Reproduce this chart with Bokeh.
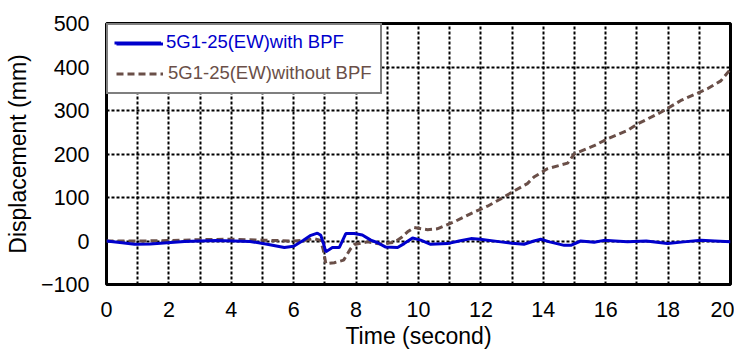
from bokeh.plotting import figure
from bokeh.models import Legend, LegendItem, FixedTicker, Range1d
from bokeh.embed import file_html
from bokeh.resources import INLINE

# ---- data ----
t_bpf = [0.0, 0.5, 0.9, 1.4, 1.95, 2.5, 3.0, 3.5, 4.1, 4.6, 5.15, 5.7, 6.0, 6.3,
         6.55, 6.76, 6.87, 6.95, 7.03, 7.24, 7.46, 7.67, 7.94, 8.2, 8.47, 8.69,
         8.95, 9.33, 9.54, 9.81, 10.07, 10.39, 10.93, 11.3, 11.68, 11.97, 12.64,
         13.0, 13.38, 13.7, 13.92, 14.2, 14.67, 14.88, 15.2, 15.63, 15.95, 16.3,
         16.7, 17.3, 17.98, 18.5, 19.05, 19.5, 20.0]
d_bpf = [0, -4, -7.5, -7, -4, -1, 0, 1, 0, -1, -7.5, -15, -12, 1,
         13, 18, 13, -5, -25, -15, -15, 17, 17, 14, 2, -4,
         -14, -15, -6, 7, 2, -7.5, -6, 0, 5.5, 4, -2,
         -5, -7.5, 0, 4, -2, -10, -10, 0, -3, 1.5, 0,
         -2, 0, -6, -2, 1.5, 0, -2]

t_raw = [0.0, 1.0, 2.0, 3.0, 4.0, 5.0, 6.0, 6.4, 6.65, 6.86, 6.95, 7.03, 7.3,
         7.6, 7.83, 7.94, 8.15, 8.37, 8.79, 9.22, 9.45, 9.65, 9.86, 10.29, 10.6,
         11.14, 11.68, 12.21, 12.74, 13.06, 13.49, 13.7, 14.13, 14.78, 14.99,
         15.63, 16.06, 16.7, 17.02, 17.77, 18.41, 19.26, 19.69, 20.0]
d_raw = [0, 0, 1, 3, 4, 2, 0, 2, 5.5, 1.5, -21, -52, -50,
         -44, -17, -8, -5, -2, -7, -3, 8, 21, 31, 26, 28,
         44, 63, 80, 101, 115, 132, 147, 166, 179, 200,
         219, 235, 254, 269, 296, 323, 350, 368, 395]

x_ticks = [0, 2, 4, 6, 8, 10, 12, 14, 16, 18, 20]
x_grid = list(range(0, 21))
y_ticks = [-100, 0, 100, 200, 300, 400, 500]
series_labels = ["5G1-25(EW)with BPF", "5G1-25(EW)without BPF"]

BLUE = "#0000CC"
BROWN = "#6A4F48"
FONT = "Liberation Sans"

p = figure(width=734, height=354, x_range=Range1d(0, 20), y_range=Range1d(-100, 500),
           output_backend="svg", toolbar_location=None,
           min_border_left=106, min_border_right=4, min_border_top=23, min_border_bottom=70)

p.background_fill_color = "white"
p.border_fill_color = "white"
p.outline_line_color = "black"
p.outline_line_width = 3

for ax in (p.xaxis[0], p.yaxis[0]):
    ax.axis_line_color = None
    ax.major_tick_out = 0
    ax.major_tick_in = 0
    ax.minor_tick_out = 0
    ax.minor_tick_in = 0
    ax.major_label_text_font = FONT
    ax.major_label_text_font_size = "21.5px"
    ax.major_label_text_color = "black"
    ax.axis_label_text_font = FONT
    ax.axis_label_text_font_size = "23px"
    ax.axis_label_text_font_style = "normal"
    ax.axis_label_text_color = "black"

p.xaxis.ticker = FixedTicker(ticks=x_ticks)
p.yaxis.ticker = FixedTicker(ticks=y_ticks)
p.xaxis.axis_label = "Time (second)"
p.yaxis.axis_label = "Displacement (mm)"
p.xaxis.major_label_standoff = 17
p.yaxis.major_label_standoff = 17
p.xaxis.axis_label_standoff = 3
p.yaxis.axis_label_standoff = 7

p.xgrid.ticker = FixedTicker(ticks=x_grid)
p.ygrid.ticker = FixedTicker(ticks=y_ticks)
for g in (p.xgrid[0], p.ygrid[0]):
    g.grid_line_color = "black"
    g.grid_line_width = 2
    g.grid_line_dash = "3 2"
    g.grid_line_alpha = 1.0

r_raw = p.line(t_raw, d_raw, line_color=BROWN, line_width=3, line_dash="7 4")
r_bpf = p.line(t_bpf, d_bpf, line_color=BLUE, line_width=3)

common = dict(location="top_left", margin=0, padding=8, spacing=8,
              glyph_width=47, glyph_height=21, label_height=21, label_standoff=5,
              label_text_font=FONT, label_text_font_size="18.5px")

legA = Legend(items=[LegendItem(label="", renderers=[r_bpf]),
                     LegendItem(label=series_labels[1], renderers=[r_raw])],
              border_line_color="black", border_line_width=2,
              background_fill_color="white", background_fill_alpha=1.0,
              label_text_color=BROWN, **common)
legB = Legend(items=[LegendItem(label=series_labels[0], renderers=[r_bpf])],
              border_line_alpha=0, background_fill_alpha=0,
              label_text_color=BLUE, **common)
p.add_layout(legA)
p.add_layout(legB)

open("out.html", "w").write(file_html(p, INLINE))
